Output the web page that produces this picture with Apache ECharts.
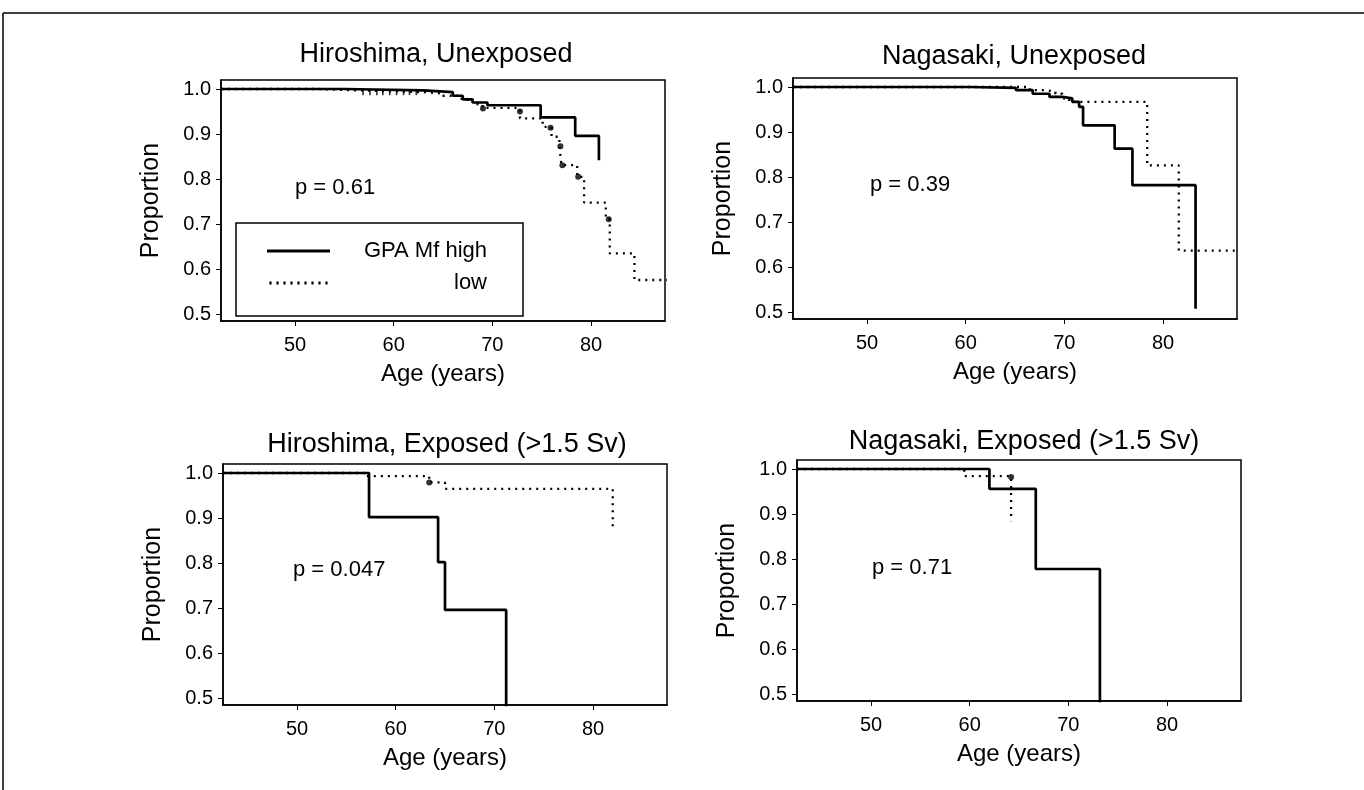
<!DOCTYPE html>
<html>
<head>
<meta charset="utf-8">
<script src="https://cdn.jsdelivr.net/npm/echarts@6/dist/echarts.min.js"></script>
<style>
html,body{margin:0;padding:0;background:#fff;}
#chart{width:1364px;height:790px;}
</style>
</head>
<body>
<div id="chart"></div>
<script>
// ---------- data (ages in years, survival proportion) ----------
var panelTitles = ['Hiroshima, Unexposed', 'Nagasaki, Unexposed', 'Hiroshima, Exposed (>1.5 Sv)', 'Nagasaki, Exposed (>1.5 Sv)'];
var pValues = ['p = 0.61', 'p = 0.39', 'p = 0.047', 'p = 0.71'];
var seriesNames = ['GPA Mf high', 'low'];
var xTicks = [50, 60, 70, 80];
var yTicks = [0.5, 0.6, 0.7, 0.8, 0.9, 1.0];

// Hiroshima, Unexposed
var hiroUnexHighAge = [42.5, 55.0, 63.0, 66.0, 67.0, 68.0, 69.5, 74.9, 78.4, 80.8];
var hiroUnexHighSurv = [1.0, 0.997, 0.993, 0.985, 0.977, 0.970, 0.964, 0.937, 0.896, 0.842];
var hiroUnexLowAge = [42.5, 52.5, 56.3, 63.0, 65.0, 66.5, 67.5, 68.5, 69.0, 72.8, 75.1, 76.0, 76.8, 77.0, 78.6, 79.3, 81.5, 81.9, 84.4, 88.0];
var hiroUnexLowSurv = [1.0, 0.997, 0.993, 0.990, 0.985, 0.978, 0.972, 0.965, 0.958, 0.935, 0.916, 0.894, 0.873, 0.831, 0.805, 0.748, 0.711, 0.635, 0.576, 0.576];
var hiroUnexDotAge = [69.05, 72.8, 75.9, 76.9, 77.1, 78.7, 81.8];
var hiroUnexDotSurv = [0.957, 0.950, 0.914, 0.873, 0.831, 0.805, 0.711];
var hiroUnexCensorAge = [56.9, 57.6, 58.3, 58.9, 59.6, 60.3, 61.0, 61.6, 62.3];
var hiroUnexCensorSurv = [0.993, 0.993, 0.993, 0.993, 0.993, 0.993, 0.993, 0.993, 0.993];

// Nagasaki, Unexposed
var nagaUnexHighAge = [42.5, 60.4, 65.1, 66.8, 68.5, 69.8, 70.8, 71.5, 71.9, 75.1, 76.9, 83.3];
var nagaUnexHighSurv = [1.0, 0.998, 0.993, 0.985, 0.978, 0.975, 0.967, 0.956, 0.915, 0.863, 0.782, 0.508];
var nagaUnexLowAge = [42.5, 66.5, 68.0, 69.1, 69.8, 70.5, 78.4, 81.6, 88.0];
var nagaUnexLowSurv = [1.0, 0.993, 0.990, 0.985, 0.975, 0.967, 0.826, 0.637, 0.637];

// Hiroshima, Exposed (>1.5 Sv)
var hiroExpHighAge = [42.5, 57.3, 64.3, 65.0, 71.2];
var hiroExpHighSurv = [1.0, 0.902, 0.802, 0.696, 0.0];
var hiroExpLowAge = [42.5, 56.9, 63.4, 65.0, 82.0];
var hiroExpLowSurv = [1.0, 0.993, 0.979, 0.965, 0.872];
var hiroExpDotAge = [63.4];
var hiroExpDotSurv = [0.979];

// Nagasaki, Exposed (>1.5 Sv)
var nagaExpHighAge = [42.5, 62.0, 66.7, 73.2];
var nagaExpHighSurv = [1.0, 0.956, 0.778, 0.0];
var nagaExpLowAge = [42.5, 59.45, 64.2];
var nagaExpLowSurv = [1.0, 0.984, 0.884];
var nagaExpDotAge = [64.2];
var nagaExpDotSurv = [0.982];

// ---------- layout ----------
var FONT = '"Liberation Sans", Arial, sans-serif';
var grids = [
  {left: 221, top: 80, width: 444, height: 241},
  {left: 793, top: 78, width: 444, height: 241},
  {left: 223, top: 464, width: 444, height: 241},
  {left: 797, top: 460, width: 444, height: 241}
];
var titlePos = [[436, 55], [1014, 57], [447, 445], [1024, 442]];
var pPos = [[295, 188], [870, 185], [293, 570], [872, 568]];

function zip(a, b) { return a.map(function (v, i) { return [v, b[i]]; }); }

var panels = [
  {high: zip(hiroUnexHighAge, hiroUnexHighSurv), low: zip(hiroUnexLowAge, hiroUnexLowSurv), dots: zip(hiroUnexDotAge, hiroUnexDotSurv), ticks: zip(hiroUnexCensorAge, hiroUnexCensorSurv)},
  {high: zip(nagaUnexHighAge, nagaUnexHighSurv), low: zip(nagaUnexLowAge, nagaUnexLowSurv), dots: [], ticks: []},
  {high: zip(hiroExpHighAge, hiroExpHighSurv), low: zip(hiroExpLowAge, hiroExpLowSurv), dots: zip(hiroExpDotAge, hiroExpDotSurv), ticks: []},
  {high: zip(nagaExpHighAge, nagaExpHighSurv), low: zip(nagaExpLowAge, nagaExpLowSurv), dots: zip(nagaExpDotAge, nagaExpDotSurv), ticks: []}
];

var xAxes = [], yAxes = [], series = [], graphics = [];
grids.forEach(function (g, i) {
  g.show = true; g.borderColor = '#000'; g.borderWidth = 1.5; g.backgroundColor = 'transparent';
  xAxes.push({
    type: 'value', gridIndex: i, min: 42.5, max: 87.5,
    name: 'Age (years)', nameLocation: 'middle', nameGap: 41,
    nameTextStyle: {fontFamily: FONT, fontSize: 24, color: '#000'},
    axisLine: {show: true, onZero: false, lineStyle: {color: '#000', width: 1.5}},
    axisTick: {show: true, inside: false, length: 5, customValues: xTicks, lineStyle: {color: '#000'}},
    axisLabel: {customValues: xTicks, margin: 14, fontFamily: FONT, fontSize: 20, color: '#000'},
    splitLine: {show: false}
  });
  yAxes.push({
    type: 'value', gridIndex: i, min: 0.485, max: 1.02,
    name: 'Proportion', nameLocation: 'middle', nameGap: 57,
    nameTextStyle: {fontFamily: FONT, fontSize: 25, color: '#000'},
    axisLine: {show: true, onZero: false, lineStyle: {color: '#000', width: 1.5}},
    axisTick: {show: true, inside: false, length: 5, customValues: yTicks, lineStyle: {color: '#000'}},
    axisLabel: {customValues: yTicks, margin: 10, fontFamily: FONT, fontSize: 20, color: '#000',
      formatter: function (v) { return v.toFixed(1); }},
    splitLine: {show: false}
  });
  var p = panels[i];
  series.push({
    name: seriesNames[0], type: 'line', step: 'end', xAxisIndex: i, yAxisIndex: i,
    data: p.high, symbol: 'none', clip: true, animation: false,
    lineStyle: {color: '#000', width: 2.7, type: 'solid'}, itemStyle: {color: '#000'}
  });
  series.push({
    name: seriesNames[1], type: 'line', step: 'end', xAxisIndex: i, yAxisIndex: i,
    data: p.low, symbol: 'none', clip: true, animation: false,
    lineStyle: {color: '#000', width: 2.3, type: [2, 5]}, itemStyle: {color: '#000'}
  });
  if (p.dots.length) series.push({
    type: 'scatter', xAxisIndex: i, yAxisIndex: i, data: p.dots, symbol: 'circle', symbolSize: 6,
    itemStyle: {color: '#000'}, animation: false, silent: true
  });
  if (p.ticks.length) series.push({
    type: 'scatter', xAxisIndex: i, yAxisIndex: i, data: p.ticks, symbol: 'rect', symbolSize: [1.6, 6],
    itemStyle: {color: '#000'}, animation: false, silent: true
  });
  graphics.push({
    type: 'text', x: titlePos[i][0], y: titlePos[i][1],
    style: {text: panelTitles[i], fontFamily: FONT, fontSize: 27, fill: '#000', align: 'center', verticalAlign: 'middle'}
  });
  graphics.push({
    type: 'text', x: pPos[i][0], y: pPos[i][1],
    style: {text: pValues[i], fontFamily: FONT, fontSize: 22, fill: '#000', align: 'left', verticalAlign: 'middle'}
  });
});

// outer figure frame
graphics.push({type: 'line', shape: {x1: 3, y1: 13, x2: 1364, y2: 13}, style: {stroke: '#000', lineWidth: 1.5}});
graphics.push({type: 'line', shape: {x1: 3, y1: 13, x2: 3, y2: 790}, style: {stroke: '#000', lineWidth: 1.5}});

var solidIcon = 'path://M0,0H63V3H0Z';
var dottedIcon = 'path://' + [0, 7, 14, 21, 28, 35, 42, 49, 56].map(function (x) {
  return 'M' + x + ',0h2.2v3h-2.2z';
}).join('');

var chart = echarts.init(document.getElementById('chart'), null, {renderer: 'canvas'});
chart.setOption({
  backgroundColor: '#fff',
  animation: false,
  grid: grids,
  xAxis: xAxes,
  yAxis: yAxes,
  legend: {
    data: [{name: seriesNames[0], icon: solidIcon}, {name: seriesNames[1], icon: dottedIcon}],
    orient: 'vertical', left: 236, top: 223,
    itemWidth: 63, itemHeight: 3, itemGap: 10,
    padding: [17, 36, 22, 31],
    borderColor: '#000', borderWidth: 1.5, backgroundColor: '#fff',
    selectedMode: false,
    formatter: function (n) { return '{r|' + n + '}'; },
    textStyle: {fontFamily: FONT, fontSize: 22, color: '#000',
      rich: {r: {width: 152, align: 'right', fontFamily: FONT, fontSize: 22, color: '#000'}}}
  },
  series: series,
  graphic: graphics
});
</script>
</body>
</html>
